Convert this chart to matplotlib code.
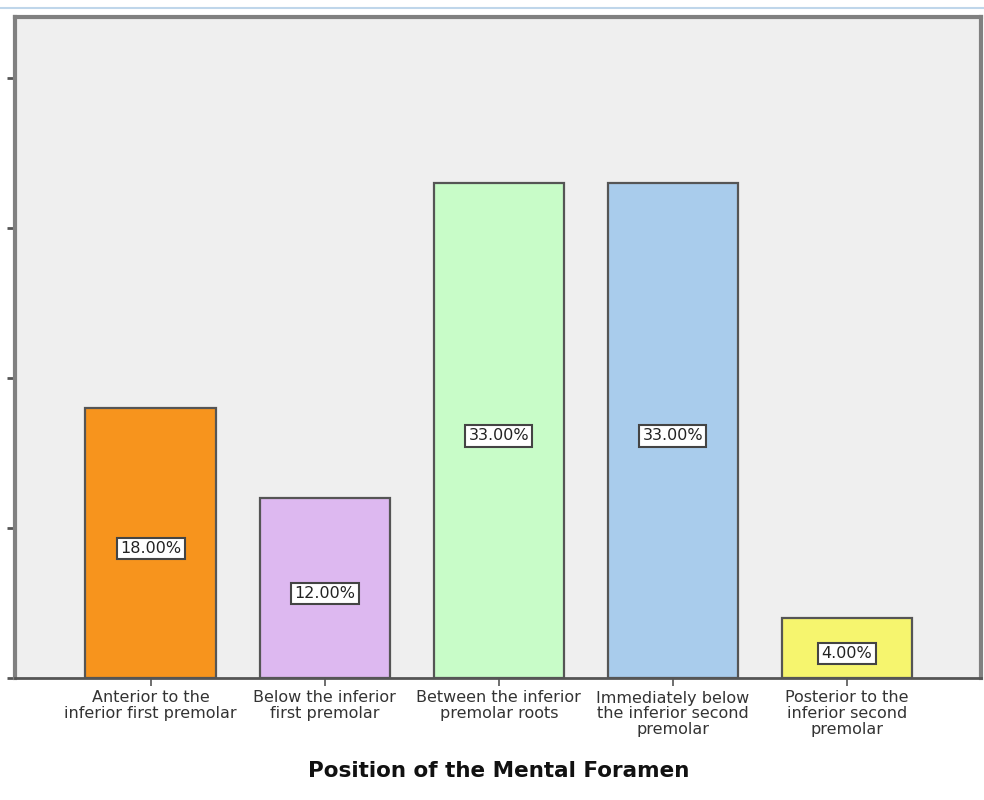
import matplotlib
matplotlib.use("Agg")
import matplotlib.pyplot as plt

plt.rcParams["font.family"] = ["DejaVu Sans"]

categories = [
    "Anterior to the\ninferior first premolar",
    "Below the inferior\nfirst premolar",
    "Between the inferior\npremolar roots",
    "Immediately below\nthe inferior second\npremolar",
    "Posterior to the\ninferior second\npremolar",
]
percentages = [18.0, 12.0, 33.0, 33.0, 4.0]
bar_colors = ["#F7941D", "#DDB8F0", "#C8FCC8", "#A9CCEC", "#F6F56E"]
y_ticks = [0, 10, 20, 30, 40]

W, H = 984, 800
fig = plt.figure(figsize=(W / 100, H / 100), dpi=100)
fig.patch.set_facecolor("white")

# thin light-blue rule across the top
fig.add_artist(plt.Line2D([0, 1], [1 - 8 / H, 1 - 8 / H], color="#BFD6EA", lw=1.5))

ax = fig.add_axes([15 / W, (H - 678) / H, 966 / W, 661 / H])
ax.set_facecolor("#EFEFEF")

x = list(range(len(categories)))
bars = ax.bar(x, percentages, width=0.75, color=bar_colors,
              edgecolor="#555555", linewidth=1.6, zorder=3)

for xi, v in zip(x, percentages):
    ax.annotate(f"{v:.2f}%", xy=(xi, v / 2), xytext=(0, -4),
                textcoords="offset points", ha="center", va="center",
                fontsize=11.5, color="#222222", zorder=4,
                bbox=dict(boxstyle="square,pad=0.2", fc="white",
                          ec="#444444", lw=1.5))

ax.set_xlim(-0.78, 4.77)
ax.set_ylim(0, 44.05)
ax.set_yticks(y_ticks)
ax.set_yticklabels([])
ax.set_xticks(x)
ax.set_xticklabels(categories, fontsize=11.5, color="#333333", linespacing=1.05)
ax.tick_params(axis="y", direction="out", length=6, width=2, color="#555555")
ax.tick_params(axis="x", direction="out", length=6, width=1.2, color="#555555", pad=3)

for side in ["left", "top", "right"]:
    ax.spines[side].set_color("#808080")
    ax.spines[side].set_linewidth(3)
ax.spines["bottom"].set_color("#555555")
ax.spines["bottom"].set_linewidth(2)

fig.text(499 / W, 1 - 771 / H, "Position of the Mental Foramen",
         ha="center", va="center", fontsize=15.5, fontweight="bold", color="#111111")

fig.savefig("out.png", dpi=100)
